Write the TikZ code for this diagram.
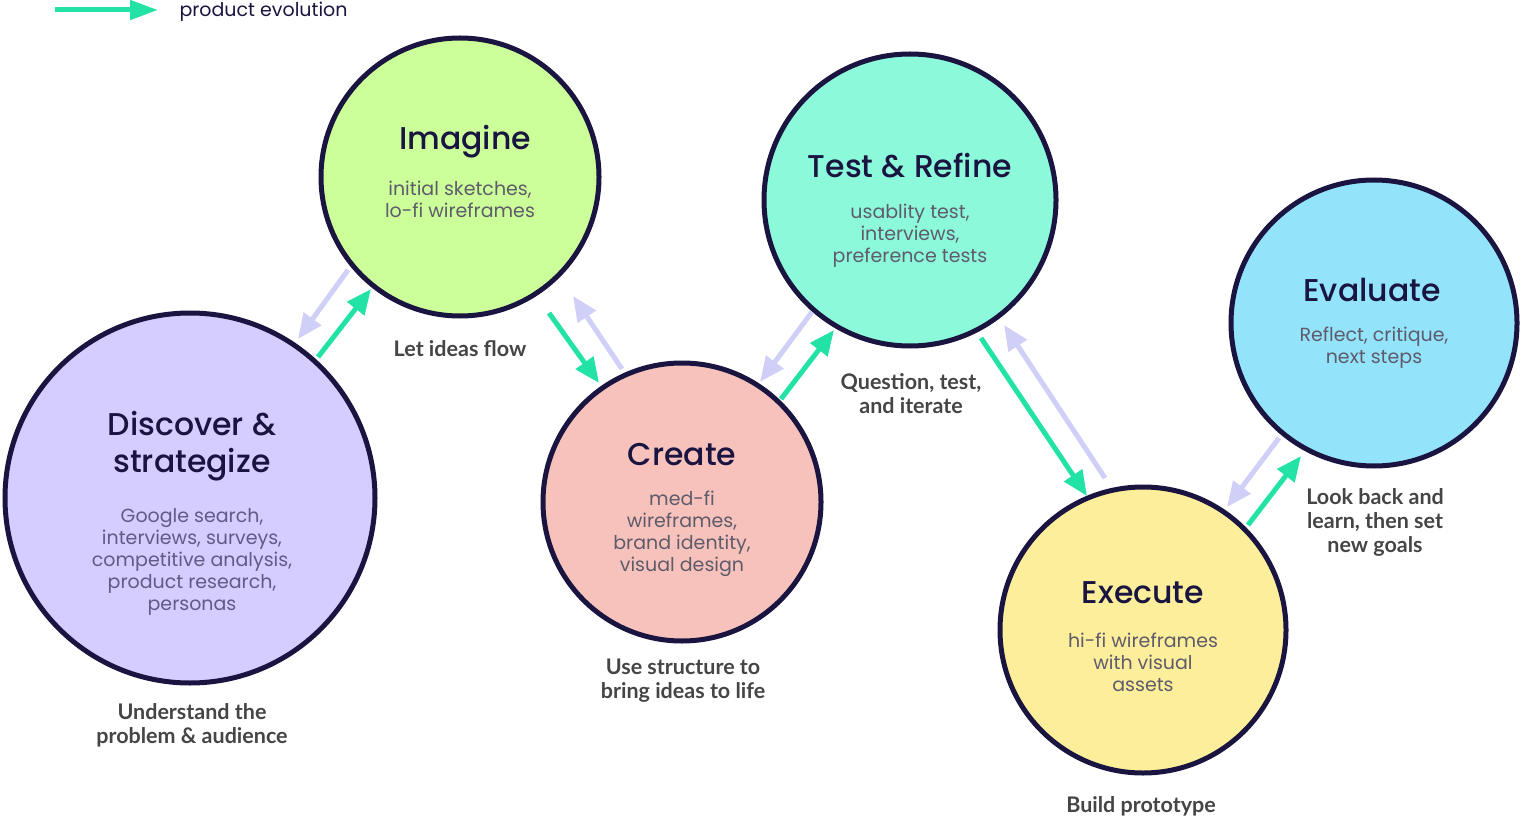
\documentclass[tikz,border=0pt]{standalone}
\usepackage{fontspec}
\setmainfont{Poppins}
\newfontfamily\ttlfont{Poppins Medium}
\newfontfamily\labfont{Lato}
\usetikzlibrary{arrows.meta}
\definecolor{navy}{HTML}{1A1540}
\definecolor{subgray}{HTML}{5E5B6B}
\definecolor{discgray}{HTML}{615B86}
\definecolor{labgray}{HTML}{454545}
\definecolor{evo}{HTML}{22E3A5}
\definecolor{back}{HTML}{D0CFF8}
\definecolor{cDisc}{HTML}{D5CCFF}
\definecolor{cImag}{HTML}{CCFF99}
\definecolor{cCrea}{HTML}{F7C2BC}
\definecolor{cTest}{HTML}{8DF9DB}
\definecolor{cEval}{HTML}{93E3FB}
\definecolor{cExec}{HTML}{FDEE9B}
\tikzset{
  phase/.style={circle, draw=navy, line width=5pt, inner sep=0pt},
  ttl/.style={text=navy, font=\ttlfont\fontsize{31.5}{37}\selectfont, align=center},
  sub/.style={text=subgray, font=\fontsize{19}{22}\selectfont, align=center},
  lab/.style={text=labgray, font=\labfont\bfseries\fontsize{21.5}{24}\selectfont, align=center},
  fwd/.style={draw=evo, line width=5pt, -{Triangle[length=25pt,width=21pt]}},
  bwd/.style={draw=back, line width=5pt, -{Triangle[length=25pt,width=21pt]}},
}
\begin{document}
\begin{tikzpicture}[x=1pt,y=-1pt]
\useasboundingbox (0,0) rectangle (1522,818);
% circles
\node[phase, fill=cDisc, minimum size=370pt] (disc) at (190,498) {};
\node[phase, fill=cImag, minimum size=278pt] (imag) at (460,177) {};
\node[phase, fill=cCrea, minimum size=278pt] (crea) at (682,502) {};
\node[phase, fill=cTest, minimum size=292pt] (test) at (910,200) {};
\node[phase, fill=cEval, minimum size=286pt] (eval) at (1374,323) {};
\node[phase, fill=cExec, minimum size=286pt] (exec) at (1143,630) {};
% titles
\node[ttl] (discT) at (192,446) {Discover \&\\strategize};
\node[ttl] (imagT) at (465,142) {Imagine};
\node[ttl] (creaT) at (682,455) {Create};
\node[ttl] (testT) at (910,166) {Test \& Refine};
\node[ttl] (evalT) at (1372,290) {Evaluate};
\node[ttl] (execT) at (1143,593) {Execute};
% subtexts
\node[sub, text=discgray] (discS) at (192,562) {Google search,\\interviews, surveys,\\competitive analysis,\\product research,\\personas};
\node[sub] (imagS) at (460,199) {initial sketches,\\lo-fi wireframes};
\node[sub] (creaS) at (682,534) {med-fi\\wireframes,\\brand identity,\\visual design};
\node[sub] (testS) at (910,236) {usablity test,\\interviews,\\preference tests};
\node[sub] (evalS) at (1374,348) {Reflect, critique,\\next steps};
\node[sub] (execS) at (1143,662) {hi-fi wireframes\\with visual\\assets};
% labels
\node[lab] (discL) at (192,725) {Understand the\\problem \& audience};
\node[lab] (imagL) at (460,349) {Let ideas flow};
\node[lab] (creaL) at (683,681) {Use structure to\\bring ideas to life};
\node[lab] (testL) at (911,394) {Question, test,\\and iterate};
\node[lab] (evalL) at (1375,522) {Look back and\\learn, then set\\new goals};
\node[lab] (execL) at (1141,806) {Build prototype};
% arrow end coordinates
\coordinate (a1s) at (318,357); \coordinate (a1e) at (371,289);
\coordinate (b1s) at (348,270); \coordinate (b1e) at (298,339);
\coordinate (a2s) at (549,313); \coordinate (a2e) at (599,383);
\coordinate (b2s) at (622,369); \coordinate (b2e) at (573,296);
\coordinate (a3s) at (781,399); \coordinate (a3e) at (834,330);
\coordinate (b3s) at (812,312); \coordinate (b3e) at (760,382);
\coordinate (a4s) at (981,338); \coordinate (a4e) at (1087,496);
\coordinate (b4s) at (1105,478); \coordinate (b4e) at (1004,325);
\coordinate (a5s) at (1248,525); \coordinate (a5e) at (1301,456);
\coordinate (b5s) at (1279,438); \coordinate (b5e) at (1227,507);
\draw[bwd] (b1s) -- (b1e);
\draw[fwd] (a1s) -- (a1e);
\draw[bwd] (b2s) -- (b2e);
\draw[fwd] (a2s) -- (a2e);
\draw[bwd] (b3s) -- (b3e);
\draw[fwd] (a3s) -- (a3e);
\draw[bwd] (b4s) -- (b4e);
\draw[fwd] (a4s) -- (a4e);
\draw[bwd] (b5s) -- (b5e);
\draw[fwd] (a5s) -- (a5e);
% legend
\coordinate (lgs) at (55,10); \coordinate (lge) at (158,10);
\draw[fwd, -{Triangle[length=28pt,width=19pt]}] (lgs) -- (lge);
\node[text=navy, font=\fontsize{19}{22}\selectfont, anchor=west] (lgT) at (176,12) {product evolution};
\end{tikzpicture}
\end{document}
